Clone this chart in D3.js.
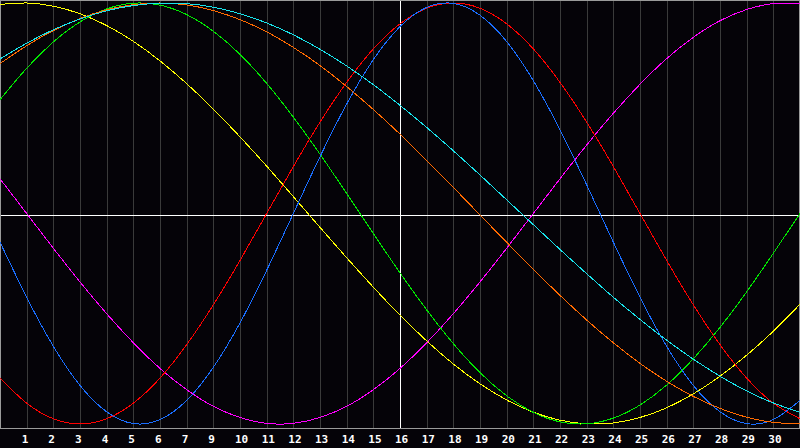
<!DOCTYPE html>
<html>
<head>
<meta charset="utf-8">
<script src="https://cdn.jsdelivr.net/npm/d3@7"></script>
<style>
  html, body { margin: 0; padding: 0; background: #050308; }
  svg { display: block; }
</style>
</head>
<body>
<div id="chart"></div>
<script>
// day index 0..30 along the plot, one value per day
const days = d3.range(0, 31);
const tickLabels = ["1", "2", "3", "4", "5", "6", "7", "9", "10", "11", "12", "13", "14", "15", "16",
  "17", "18", "19", "20", "21", "22", "23", "24", "25", "26", "27", "28", "29", "30"];

const red = [-0.782, -0.901, -0.975, -1, -0.975, -0.901, -0.782, -0.623, -0.434, -0.223, 0, 0.223, 0.434, 0.623, 0.782, 0.901,
  0.975, 1, 0.975, 0.901, 0.782, 0.623, 0.434, 0.223, 0, -0.223, -0.434, -0.623, -0.782, -0.901, -0.975];
const blue = [-0.136, -0.398, -0.631, -0.817, -0.942, -0.998, -0.979, -0.888, -0.731, -0.520, -0.270, 0, 0.270, 0.520, 0.731, 0.888,
  0.979, 0.998, 0.942, 0.817, 0.631, 0.398, 0.136, -0.136, -0.398, -0.631, -0.817, -0.942, -0.998, -0.979, -0.888];
const green = [0.541, 0.690, 0.815, 0.910, 0.972, 0.999, 0.990, 0.945, 0.866, 0.756, 0.618, 0.458, 0.282, 0.095, -0.095, -0.282,
  -0.458, -0.618, -0.756, -0.866, -0.945, -0.990, -0.999, -0.972, -0.910, -0.815, -0.690, -0.541, -0.372, -0.189, 0];
const magenta = [0.165, 0, -0.165, -0.325, -0.476, -0.614, -0.736, -0.837, -0.916, -0.969, -0.997, -0.997, -0.969, -0.916, -0.837, -0.736,
  -0.614, -0.476, -0.325, -0.165, 0, 0.165, 0.325, 0.476, 0.614, 0.736, 0.837, 0.916, 0.969, 0.997, 0.997];
const yellow = [0.993, 1, 0.985, 0.949, 0.893, 0.818, 0.725, 0.617, 0.496, 0.364, 0.225, 0.080, -0.066, -0.210, -0.350, -0.483,
  -0.605, -0.715, -0.809, -0.886, -0.944, -0.982, -0.999, -0.995, -0.969, -0.923, -0.857, -0.773, -0.673, -0.559, -0.431];
const orange = [0.712, 0.797, 0.869, 0.926, 0.968, 0.992, 1, 0.991, 0.964, 0.921, 0.863, 0.789, 0.703, 0.603, 0.494, 0.377,
  0.252, 0.124, -0.007, -0.137, -0.265, -0.389, -0.506, -0.614, -0.712, -0.797, -0.869, -0.926, -0.968, -0.992, -1];
const cyan = [0.734, 0.809, 0.873, 0.924, 0.963, 0.988, 0.999, 0.997, 0.980, 0.949, 0.905, 0.849, 0.780, 0.701, 0.612, 0.514,
  0.409, 0.298, 0.183, 0.065, -0.053, -0.171, -0.286, -0.398, -0.503, -0.602, -0.692, -0.773, -0.843, -0.900, -0.945];

const series = [
  { name: "magenta", values: magenta, color: "#ff00ff" },
  { name: "yellow", values: yellow, color: "#ffff00" },
  { name: "green", values: green, color: "#00e800" },
  { name: "red", values: red, color: "#ff0000" },
  { name: "blue", values: blue, color: "#1a6eff" },
  { name: "orange", values: orange, color: "#ff6a00" },
  { name: "cyan", values: cyan, color: "#18e4ec" }
];

const width = 800, height = 448, plotBottom = 428;

const svg = d3.select("#chart").append("svg")
  .attr("width", width)
  .attr("height", height);

svg.append("rect").attr("width", width).attr("height", height).attr("fill", "#050308");

const x = d3.scaleLinear().domain([0, 30]).range([0, width]);
const y = d3.scaleLinear().domain([-1, 1]).range([424, 3]);
const px = v => Math.round(v) + 0.5;

// day gridlines
svg.append("g").selectAll("line").data(d3.range(1, 30)).enter().append("line")
  .attr("x1", d => px(x(d))).attr("x2", d => px(x(d)))
  .attr("y1", 0).attr("y2", plotBottom)
  .attr("stroke", "#3a3a3a")
  .attr("shape-rendering", "crispEdges");

// centre cross
svg.append("line")
  .attr("x1", 0).attr("x2", width)
  .attr("y1", px(y(0)) + 0.5).attr("y2", px(y(0)) + 0.5)
  .attr("stroke", "#ffffff").attr("shape-rendering", "crispEdges");
svg.append("line")
  .attr("x1", px(x(15))).attr("x2", px(x(15)))
  .attr("y1", 0).attr("y2", plotBottom)
  .attr("stroke", "#ffffff").attr("shape-rendering", "crispEdges");

// frame
svg.append("rect")
  .attr("x", 0.5).attr("y", 0.5)
  .attr("width", width - 1).attr("height", plotBottom)
  .attr("fill", "none")
  .attr("stroke", "#9a9a9a")
  .attr("shape-rendering", "crispEdges");

const line = d3.line()
  .x((d, i) => x(days[i]))
  .y(d => y(d))
  .curve(d3.curveNatural);

svg.append("g").selectAll("path").data(series).enter().append("path")
  .attr("d", d => line(d.values))
  .attr("fill", "none")
  .attr("stroke", d => d.color)
  .attr("stroke-width", 1)
  .attr("shape-rendering", "crispEdges");

// day labels under the gridlines
const axis = d3.axisBottom(x)
  .tickValues(d3.range(1, 30))
  .tickSize(0)
  .tickFormat(d => tickLabels[d - 1]);

const axisG = svg.append("g")
  .attr("transform", `translate(0,${plotBottom + 1})`)
  .call(axis);

axisG.select(".domain").remove();
axisG.selectAll("text")
  .attr("text-anchor", "start")
  .attr("dx", -5.5)
  .attr("y", 14)
  .attr("dy", 0)
  .attr("fill", "#ffffff")
  .style("font-family", "'DejaVu Sans Mono', monospace")
  .style("font-weight", "bold")
  .style("font-size", "11px");
</script>
</body>
</html>
